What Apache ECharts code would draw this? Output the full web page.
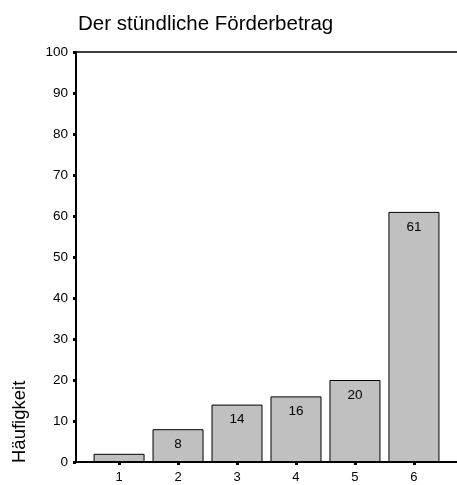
<!DOCTYPE html>
<html>
<head>
<meta charset="utf-8">
<script src="https://cdn.jsdelivr.net/npm/echarts@6/dist/echarts.min.js"></script>
<style>
html,body{margin:0;padding:0;background:#fff;}
#chart{width:457px;height:485px;}
</style>
</head>
<body>
<div id="chart"></div>
<script>
const categories = [1, 2, 3, 4, 5, 6];
const counts = [2, 8, 14, 16, 20, 61];
const labelShown = [false, true, true, true, true, true];
const yTicks = [0, 10, 20, 30, 40, 50, 60, 70, 80, 90, 100];
const titleText = 'Der stündliche Förderbetrag';
const yName = 'Häufigkeit';

const font = 'Liberation Sans, Arial, sans-serif';
const chart = echarts.init(document.getElementById('chart'), null, {renderer: 'canvas'});
chart.setOption({
  animation: false,
  backgroundColor: '#ffffff',
  textStyle: {fontFamily: font},
  title: {
    text: titleText,
    left: 73, top: 9,
    textStyle: {fontFamily: font, fontSize: 20.5, fontWeight: 'normal', color: '#000'}
  },
  grid: {left: 76, right: -4, top: 52, bottom: 23},
  xAxis: [{
    type: 'value', min: 0.27, max: 6.73,
    splitLine: {show: false},
    axisLine: {show: true, onZero: false, lineStyle: {color: '#000', width: 2}},
    axisTick: {show: true, customValues: categories, length: 3, lineStyle: {color: '#000', width: 3}},
    axisLabel: {show: true, customValues: categories, color: '#000', fontSize: 13, margin: 9, fontFamily: font}
  }, {
    type: 'value', min: 0.27, max: 6.73, position: 'top',
    splitLine: {show: false},
    axisLine: {show: true, onZero: false, lineStyle: {color: '#000', width: 1.5}},
    axisTick: {show: false}, axisLabel: {show: false}
  }],
  yAxis: {
    type: 'value', min: 0, max: 100, interval: 10,
    splitLine: {show: false},
    axisLine: {show: true, lineStyle: {color: '#000', width: 2}},
    axisTick: {show: true, length: 3, lineStyle: {color: '#000', width: 3}},
    axisLabel: {color: '#000', fontSize: 13.5, margin: 8, fontFamily: font,
      customValues: yTicks}
  },
  graphic: [{
    type: 'text', x: 20, y: 463, rotation: Math.PI / 2,
    style: {text: yName, fontSize: 18.5, fontFamily: font, fill: '#000',
      textAlign: 'left', textVerticalAlign: 'middle'}
  }],
  series: [{
    type: 'bar',
    barWidth: 51,
    data: categories.map((c, i) => ({
      value: [c, counts[i]],
      label: {show: labelShown[i]}
    })),
    itemStyle: {color: '#c0c0c0', borderColor: '#000', borderWidth: 1},
    label: {
      show: true, position: 'insideTop', distance: 8,
      color: '#000', fontSize: 13.5, fontFamily: font,
      formatter: p => p.value[1]
    }
  }]
});
</script>
</body>
</html>
